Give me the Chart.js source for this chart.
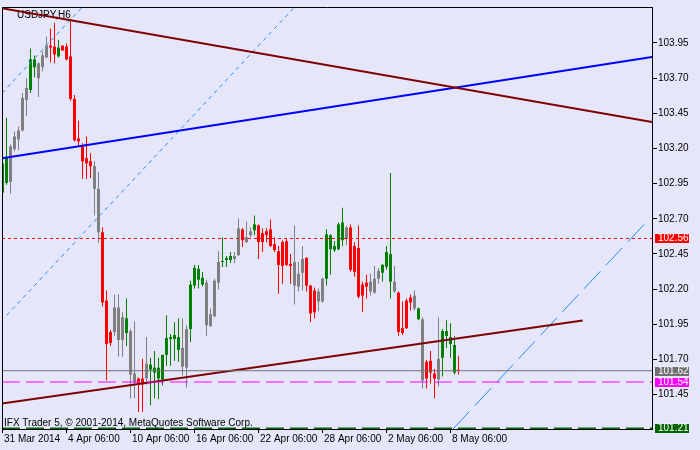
<!DOCTYPE html>
<html>
<head>
<meta charset="utf-8">
<script src="https://cdn.jsdelivr.net/npm/chart.js@4/dist/chart.umd.min.js"></script>
<style>
html,body{margin:0;padding:0;background:#e6e6fa;}
#wrap{width:700px;height:450px;}
</style>
</head>
<body>
<div id="wrap"><canvas id="c" width="700" height="450"></canvas></div>
<script>
// ---------- DATA (USDJPY, H6) ----------
const symbolTitle = 'USDJPY,H6';
const copyright = 'IFX Trader 5, \u00a9 2001-2014, MetaQuotes Software Corp.';

const opens = [102.885,102.955,102.962,103.194,103.264,103.327,103.545,103.615,103.777,103.805,
103.777,103.847,103.931,103.924,103.854,103.931,103.924,103.854,103.552,103.271,
103.215,103.131,103.109,103.074,102.913,102.604,102.119,101.895,101.895,102.070,
101.838,101.888,101.902,101.600,101.565,101.565,101.565,101.628,101.607,101.565,
101.558,101.733,101.845,101.845,101.768,101.782,101.642,101.916,102.225,102.267,
102.232,102.246,101.937,102.007,102.246,102.393,102.407,102.407,102.435,102.442,
102.625,102.534,102.583,102.618,102.653,102.597,102.611,102.625,102.520,102.470,
102.534,102.541,102.379,102.225,102.309,102.316,102.421,102.225,102.190,102.112,
102.112,102.274,102.484,102.477,102.484,102.548,102.639,102.639,102.506,102.492,
102.232,102.246,102.183,102.175,102.274,102.316,102.358,102.253,102.253,102.175,
101.923,102.119,102.140,102.063,101.986,101.986,101.684,101.691,101.600,101.558,
101.712,101.867,101.810,101.607,101.628];

const highs = [103.166,103.418,103.229,103.320,103.355,103.594,103.699,103.910,103.861,103.812,
103.889,103.994,104.050,104.093,103.973,103.931,103.945,104.121,103.580,103.397,
103.236,103.285,103.166,103.109,103.032,102.639,102.190,101.909,102.161,102.161,
102.035,102.133,101.916,101.972,101.572,101.705,101.859,101.712,101.761,101.712,
101.733,102.014,101.881,101.965,101.993,101.993,101.944,102.260,102.372,102.372,
102.323,102.267,102.063,102.274,102.470,102.569,102.435,102.463,102.463,102.702,
102.632,102.681,102.639,102.723,102.660,102.632,102.632,102.695,102.569,102.506,
102.548,102.555,102.449,102.653,102.393,102.506,102.428,102.232,102.211,102.204,
102.281,102.625,102.590,102.541,102.674,102.779,102.653,102.660,102.534,102.653,
102.253,102.302,102.309,102.365,102.351,102.379,102.506,103.025,102.365,102.183,
102.112,102.133,102.161,102.190,102.070,102.000,101.698,101.761,101.635,102.000,
101.916,101.979,101.958,101.867,101.726];

const lows = [102.864,102.941,102.878,103.180,103.187,103.320,103.433,103.594,103.706,103.566,
103.749,103.840,103.812,103.805,103.847,103.896,103.826,103.538,103.250,103.215,
102.983,102.983,102.990,102.723,102.527,102.077,101.550,101.796,101.867,101.719,
101.719,101.796,101.424,101.424,101.326,101.326,101.522,101.375,101.424,101.417,
101.515,101.656,101.656,101.691,101.684,101.586,101.501,101.824,102.204,102.204,
102.218,101.867,101.930,102.000,102.197,102.358,102.358,102.386,102.386,102.435,
102.499,102.527,102.569,102.583,102.414,102.463,102.534,102.499,102.463,102.168,
102.239,102.365,102.239,102.091,102.183,102.190,102.183,101.965,101.993,102.042,
102.105,102.225,102.302,102.463,102.477,102.506,102.513,102.323,102.288,102.133,
102.035,102.133,102.154,102.168,102.239,102.253,102.337,102.133,102.175,101.867,
101.874,101.916,102.049,102.049,101.979,101.494,101.494,101.529,101.424,101.508,
101.579,101.782,101.712,101.593,101.593];

const closes = [103.095,103.138,103.215,103.285,103.327,103.559,103.629,103.833,103.833,103.699,
103.861,103.931,103.917,103.868,103.917,103.896,103.833,103.552,103.257,103.250,
103.109,103.095,103.074,102.913,102.604,102.105,101.810,101.817,102.070,101.838,
102.000,101.993,101.593,101.536,101.529,101.522,101.670,101.663,101.642,101.642,
101.733,101.852,101.859,101.874,101.859,101.649,101.916,102.232,102.351,102.344,
102.281,101.944,102.021,102.260,102.393,102.400,102.421,102.435,102.414,102.632,
102.548,102.569,102.611,102.660,102.534,102.534,102.583,102.506,102.477,102.372,
102.365,102.372,102.365,102.393,102.218,102.414,102.225,102.028,102.035,102.183,
102.274,102.590,102.583,102.506,102.660,102.674,102.555,102.337,102.323,102.147,
102.154,102.218,102.253,102.274,102.330,102.372,102.463,102.449,102.183,101.895,
101.888,101.923,102.105,102.154,102.063,101.550,101.565,101.607,101.565,101.705,
101.902,101.902,101.859,101.803,101.621];

// candle state from the chart's indicator: 1 = up, -1 = down, 0 = neutral
const trend = [1,1,0,0,0,0,0,1,1,0, 0,0,-1,-1,1,-1,-1,-1,-1,-1,
-1,-1,-1,0,0,-1,-1,-1,0,0, 0,1,0,0,-1,-1,0,1,1,1,
1,1,1,1,1,0,0,1,1,1, 1,0,0,0,0,1,1,1,0,0,
-1,0,0,1,-1,-1,-1,-1,-1,-1, -1,-1,-1,0,0,0,-1,-1,-1,0,
0,1,1,1,1,1,0,-1,-1,-1, -1,-1,0,0,0,1,1,1,0,-1,
-1,-1,-1,0,1,0,-1,-1,-1,0, 1,1,1,1,-1];

const timeTickBars = [1,17,33,49,65,81,97,113];
const timeTickLabels = ['31 Mar 2014','4 Apr 06:00','10 Apr 06:00','16 Apr 06:00','22 Apr 06:00','28 Apr 06:00','2 May 06:00','8 May 06:00'];
const priceTicks = [101.45,101.70,101.95,102.20,102.45,102.70,102.95,103.20,103.45,103.70,103.95];

// horizontal price levels: alert level, current bid, support, lowest low
const levelPrices = [102.56, 101.62, 101.54, 101.21];

// trend line anchors (bar number, price)
const resistanceBars = [0.875, 163.375];   const resistancePrices = [104.196, 103.388];
const blueTrendBars = [0.875, 163.375];    const blueTrendPrices = [103.130, 103.850];
const supportBars = [0.875, 146.05];       const supportPrices = [101.387, 101.977];
const channelABars = [0.875, 20.975];      const channelAPrices = [103.593, 104.205];
const channelBBars = [2.05, 74.03];        const channelBPrices = [102.014, 104.205];
const channelCBars = [113.625, 161.875];   const channelCPrices = [101.206, 102.674];

// ---------- STYLE / VIEW ----------
const xMin = 0.875, xMax = 163.375, yMin = 101.206, yMax = 104.205;
const FONT = '"Liberation Sans", Arial, sans-serif';
const trendColors = {'1':'#008000','-1':'#ff0000','0':'#808080'};
const levelColors = ['#ff0000','#707070','#ff00ff','#006400'];
const levelDashes = [[3,3],[],[18,6],[18,6]];
const levelWidths = [1,1,1,2];
const levelTextColors = ['#ffffff','#ffffff','#ffffff','#ffffff'];

const candleColors = trend.map(t => trendColors[String(t)]);
const barNums = opens.map((_, k) => k + 1);

function lineDs(bars, prices, color, width, dash) {
  return {
    type: 'line',
    data: bars.map((b, k) => ({x: b, y: prices[k]})),
    borderColor: color, borderWidth: width, borderDash: dash || [],
    pointRadius: 0, fill: false, tension: 0, order: 0, borderCapStyle: 'butt'
  };
}

const datasets = [];
levelPrices.forEach((v, k) => {
  datasets.push(lineDs([xMin, xMax], [v, v], levelColors[k], levelWidths[k], levelDashes[k]));
});
datasets.push(lineDs(resistanceBars, resistancePrices, '#800000', 2));
datasets.push(lineDs(blueTrendBars, blueTrendPrices, '#0000ff', 2));
datasets.push(lineDs(supportBars, supportPrices, '#800000', 2));
datasets.push(lineDs(channelABars, channelAPrices, '#1e90ff', 1, [4,4]));
datasets.push(lineDs(channelBBars, channelBPrices, '#1e90ff', 1, [4,4]));
datasets.push(lineDs(channelCBars, channelCPrices, '#1e90ff', 1, [24,8]));

datasets.push({
  type: 'bar',
  data: barNums.map((b, k) => ({x: b, y: [opens[k], closes[k]]})),
  backgroundColor: candleColors, borderWidth: 0, barThickness: 3, minBarLength: 1,
  grouped: false, inflateAmount: 0, order: 2
});
datasets.push({
  type: 'bar',
  data: barNums.map((b, k) => ({x: b, y: [lows[k], highs[k]]})),
  backgroundColor: candleColors, borderWidth: 0, barThickness: 1, minBarLength: 1,
  grouped: false, inflateAmount: 0, order: 3
});

const decor = {
  id: 'decor',
  beforeDraw(chart) {
    const c = chart.ctx;
    c.save(); c.fillStyle = '#e6e6fa'; c.fillRect(0, 0, chart.width, chart.height); c.restore();
  },
  beforeDatasetsDraw(chart) {
    const c = chart.ctx, a = chart.chartArea;
    c.save();
    c.fillStyle = '#000'; c.font = '10px ' + FONT; c.textBaseline = 'alphabetic'; c.textAlign = 'left';
    c.fillText(symbolTitle, a.left + 15, a.top + 11);
    c.fillText(copyright, a.left + 2, a.bottom - 3);
    c.restore();
  },
  afterDraw(chart) {
    const c = chart.ctx, a = chart.chartArea, ys = chart.scales.y;
    c.save();
    c.strokeStyle = '#000'; c.lineWidth = 1;
    c.beginPath();
    c.moveTo(a.left + 0.5, a.bottom); c.lineTo(a.left + 0.5, a.top + 0.5); c.lineTo(a.right, a.top + 0.5);
    c.stroke();
    c.font = '10px ' + FONT; c.textAlign = 'left'; c.textBaseline = 'middle';
    levelPrices.forEach((v, k) => {
      const py = Math.round(ys.getPixelForValue(v));
      c.fillStyle = levelColors[k];
      c.fillRect(a.right + 3, py - 4, 34, 9);
      c.fillStyle = levelTextColors[k];
      c.fillText(v.toFixed(2), a.right + 6, py + 0.5);
    });
    c.restore();
  }
};

new Chart(document.getElementById('c'), {
  type: 'bar',
  data: { datasets },
  options: {
    responsive: false, animation: false, devicePixelRatio: 1, events: [],
    layout: { padding: { left: 2, top: 2, right: 0, bottom: 0 } },
    plugins: { legend: { display: false }, tooltip: { enabled: false }, title: { display: false } },
    scales: {
      x: {
        type: 'linear', min: xMin, max: xMax, offset: false,
        grid: { display: true, drawOnChartArea: false, drawTicks: true, tickLength: 4, color: '#000', offset: false },
        border: { display: true, color: '#000', width: 1 },
        ticks: {
          autoSkip: false, maxRotation: 0, minRotation: 0, align: 'start', labelOffset: 1.5, padding: 0,
          color: '#000', font: { family: FONT, size: 10 },
          callback: (v) => { const k = timeTickBars.indexOf(v); return k >= 0 ? timeTickLabels[k] : ''; }
        },
        afterBuildTicks: (s) => { s.ticks = timeTickBars.map(v => ({ value: v })); },
        afterFit: (s) => { s.height = 21; }
      },
      y: {
        type: 'linear', position: 'right', min: yMin, max: yMax, beginAtZero: false,
        grid: { display: true, drawOnChartArea: false, drawTicks: true, tickLength: 5, color: '#000' },
        border: { display: true, color: '#000', width: 1 },
        ticks: { padding: 1, color: '#000', font: { family: FONT, size: 10 }, callback: (v) => Number(v).toFixed(2) },
        afterBuildTicks: (s) => { s.ticks = priceTicks.map(v => ({ value: v })); },
        afterFit: (s) => { s.width = 48; }
      }
    }
  },
  plugins: [decor]
});
</script>
</body>
</html>
